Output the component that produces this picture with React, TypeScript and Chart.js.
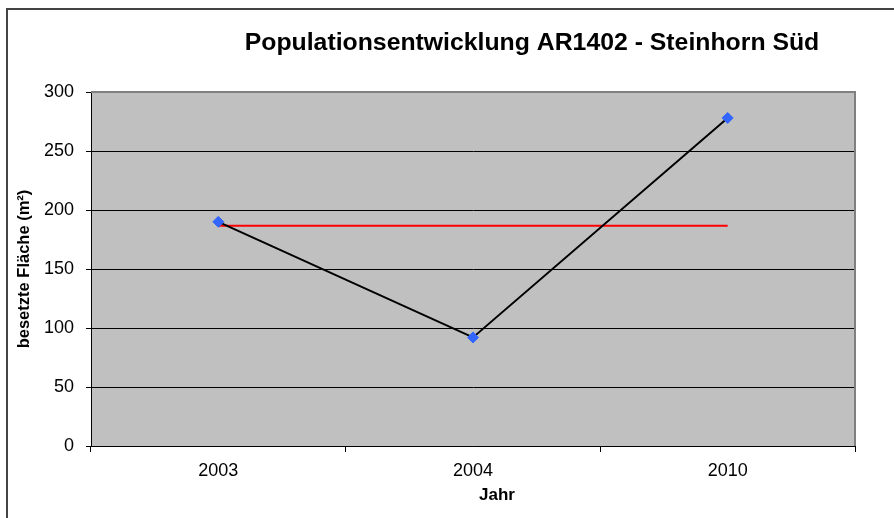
import React, { useEffect, useRef } from "react";
import { Chart, registerables } from "chart.js";

Chart.register(...registerables);

const years = ["2003", "2004", "2010"];
const occupiedArea = [190, 92, 278];
const averageArea = [186.7, 186.7, 186.7];
const yTicks = [0, 50, 100, 150, 200, 250, 300];
const chartTitle = "Populationsentwicklung AR1402 - Steinhorn Süd";
const xTitle = "Jahr";
const yTitle = "besetzte Fläche (m²)";

const FONT = "'Liberation Sans', Arial, Helvetica, sans-serif";

const decorPlugin = {
  id: "decor",
  beforeDraw(chart: any) {
    const { ctx, chartArea: a } = chart;
    ctx.save();
    ctx.fillStyle = "#FFFFFF";
    ctx.fillRect(0, 0, chart.width, chart.height);
    ctx.fillStyle = "#C0C0C0";
    ctx.fillRect(a.left, a.top, a.right - a.left, a.bottom - a.top);
    ctx.restore();
  },
  afterDraw(chart: any) {
    const { ctx, chartArea: a } = chart;
    ctx.save();
    // plot border top/right (gray)
    ctx.strokeStyle = "#808080";
    ctx.lineWidth = 2;
    ctx.beginPath();
    ctx.moveTo(a.left, a.top);
    ctx.lineTo(a.right, a.top);
    ctx.lineTo(a.right, a.bottom);
    ctx.stroke();
    // outer frame
    ctx.strokeStyle = "#444444";
    ctx.lineWidth = 2;
    ctx.beginPath();
    ctx.moveTo(7, chart.height + 5);
    ctx.lineTo(7, 9);
    ctx.lineTo(chart.width + 5, 9);
    ctx.stroke();
    // chart title
    ctx.fillStyle = "#000";
    ctx.textAlign = "center";
    ctx.textBaseline = "middle";
    ctx.font = `bold 24.8px ${FONT}`;
    ctx.fillText(chartTitle, 532, 43);
    // x axis title
    ctx.font = `bold 17px ${FONT}`;
    ctx.fillText(xTitle, 497, 495);
    ctx.restore();
  },
};

export default function App() {
  const ref = useRef<HTMLCanvasElement | null>(null);

  useEffect(() => {
    if (!ref.current) return;
    const chart = new Chart(ref.current, {
      type: "line",
      data: {
        labels: years,
        datasets: [
          {
            label: "besetzte Fläche",
            data: occupiedArea,
            borderColor: "#000000",
            borderWidth: 2,
            pointStyle: "rectRot",
            pointRadius: 5.5,
            pointBackgroundColor: "#3366FF",
            pointBorderColor: "#3366FF",
            pointBorderWidth: 1,
            tension: 0,
          },
          {
            label: "Mittelwert",
            data: averageArea,
            borderColor: "#FF0000",
            borderWidth: 2,
            pointRadius: 0,
            tension: 0,
          },
        ],
      },
      options: {
        responsive: false,
        animation: false,
        layout: { padding: { left: 0, top: 92, right: 39, bottom: 0 } },
        plugins: {
          legend: { display: false },
          title: { display: false },
          tooltip: { enabled: false },
        },
        scales: {
          x: {
            type: "category",
            offset: true,
            grid: {
              offset: true,
              drawOnChartArea: false,
              drawTicks: true,
              tickLength: 6,
              color: "#000",
            },
            border: { color: "#000", width: 1 },
            ticks: {
              color: "#000",
              font: { family: FONT, size: 18 },
              padding: 8,
              maxRotation: 0,
            },
            title: { display: false, text: xTitle },
            afterFit: (s: any) => {
              s.height = 72;
            },
          },
          y: {
            min: 0,
            max: 300,
            afterBuildTicks: (s: any) => {
              s.ticks = yTicks.map((v) => ({ value: v }));
            },
            grid: {
              color: (c: any) =>
                c.tick && c.tick.value === 300 ? "#808080" : "#000",
              tickColor: "#000",
              lineWidth: 1,
              tickLength: 5,
              drawTicks: true,
            },
            border: { color: "#000", width: 1 },
            ticks: {
              color: "#000",
              font: { family: FONT, size: 18 },
              padding: 12,
            },
            title: {
              display: true,
              text: yTitle,
              color: "#000",
              font: { family: FONT, size: 16.5, weight: "bold" },
              padding: { top: 15, bottom: 0 },
            },
            afterFit: (s: any) => {
              s.width = 91;
            },
          },
        },
      },
      plugins: [decorPlugin],
    });
    return () => chart.destroy();
  }, []);

  return (
    <div style={{ position: "absolute", left: 0, top: 0, width: 894, height: 518 }}>
      <canvas ref={ref} width={894} height={518} style={{ display: "block" }} />
    </div>
  );
}
